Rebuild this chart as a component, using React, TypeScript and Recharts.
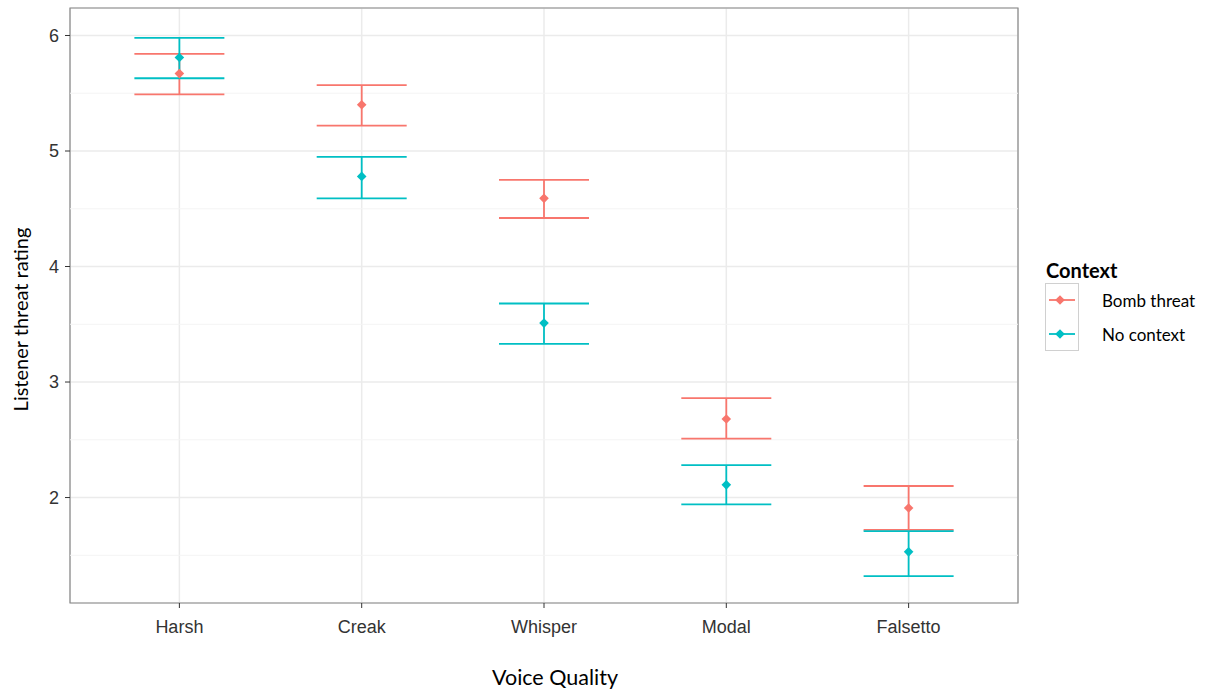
import React from 'react';
import {
    ScatterChart, Scatter, ErrorBar, XAxis, YAxis, CartesianGrid, ReferenceLine,
    ReferenceArea, Legend, Label
} from 'recharts';

const categories = ['Harsh', 'Creak', 'Whisper', 'Modal', 'Falsetto'];

// Bomb threat context: mean rating and interval bounds per voice quality
const bombMean = [5.67, 5.40, 4.59, 2.68, 1.91];
const bombLower = [5.49, 5.22, 4.42, 2.51, 1.72];
const bombUpper = [5.84, 5.57, 4.75, 2.86, 2.10];

// No context
const noneMean = [5.81, 4.78, 3.51, 2.11, 1.53];
const noneLower = [5.63, 4.59, 3.33, 1.94, 1.32];
const noneUpper = [5.98, 4.95, 3.68, 2.28, 1.71];

const yTicks = [2, 3, 4, 5, 6];
const yMinor = [1.5, 2.5, 3.5, 4.5, 5.5];

const RED = '#F8766D';
const CYAN = '#00BFC4';
const X_DOMAIN: [number, number] = [0.4, 5.6];
const Y_DOMAIN: [number, number] = [1.087, 6.238];

const build = (mean: number[], lower: number[], upper: number[]) =>
    categories.map((c, i) => ({
        x: i + 1,
        y: mean[i],
        err: [mean[i] - lower[i], upper[i] - mean[i]],
    }));

const bombData = build(bombMean, bombLower, bombUpper);
const noneData = build(noneMean, noneLower, noneUpper);

// filled diamond like ggplot shape 18
const Diamond = (props: any) => {
    const { cx, cy, fill } = props;
    const r = 4.8;
    return <polygon points={`${cx},${cy - r} ${cx + r},${cy} ${cx},${cy + r} ${cx - r},${cy}`} fill={fill} />;
};

const LegendBox = ({ payload }: any) => (
    <div style={{ fontFamily: 'Lato, sans-serif', color: '#000' }}>
        <div style={{ fontWeight: 700, fontSize: 20, lineHeight: '26px', marginLeft: 1 }}>Context</div>
        {(payload || []).map((p: any, i: number) => (
            <div key={i} style={{ display: 'flex', alignItems: 'center', height: 34 }}>
                <svg width={34} height={34} style={{ display: 'block' }}>
                    <rect x={0.5} y={i === 0 ? 0.5 : -0.5} width={33} height={34} fill="#fff" stroke="#d0d0d0" />
                    <line x1={4} x2={30} y1={17} y2={17} stroke={p.color} strokeWidth={1.8} />
                    <polygon points="15,12.2 19.8,17 15,21.8 10.2,17" fill={p.color} />
                </svg>
                <span style={{ marginLeft: 23, fontSize: 17 }}>{p.value}</span>
            </div>
        ))}
    </div>
);

const tickStyle = { fontFamily: '"Liberation Sans", Arial, sans-serif', fontSize: 18, fill: '#333' };

export default function App() {
    return (
        <div style={{ position: 'absolute', left: 0, top: 0, width: 1214, height: 689, background: '#fff' }}>
            <ScatterChart width={1214} height={689} margin={{ top: 8, right: 196, bottom: 40, left: 10 }}>
                <CartesianGrid stroke="#ebebeb" strokeWidth={1.5} />
                {yMinor.map((v) => (
                    <ReferenceLine key={v} y={v} stroke="#f4f4f4" strokeWidth={1} />
                ))}
                <ReferenceArea x1={X_DOMAIN[0]} x2={X_DOMAIN[1]} y1={Y_DOMAIN[0]} y2={Y_DOMAIN[1]}
                    fill="none" stroke="#888" strokeWidth={1.2} fillOpacity={0} ifOverflow="visible" />
                <XAxis type="number" dataKey="x" domain={X_DOMAIN} ticks={[1, 2, 3, 4, 5]}
                    tickFormatter={(v: number) => categories[v - 1]} allowDataOverflow
                    height={46} axisLine={false} tickSize={5} tickMargin={12}
                    tickLine={{ stroke: '#333' }} tick={tickStyle} interval={0}>
                    <Label content={({ viewBox }: any) => (
                        <text x={viewBox.x + viewBox.width / 2 + 11} y={677} textAnchor="middle" dominantBaseline="central"
                            fontFamily="Lato, sans-serif" fontSize={21.5} fill="#000">Voice Quality</text>
                    )} />
                </XAxis>
                <YAxis type="number" dataKey="y" domain={Y_DOMAIN} ticks={yTicks} allowDataOverflow
                    width={60} axisLine={false} tickSize={5} tickMargin={6}
                    tickLine={{ stroke: '#333' }} tick={tickStyle}>
                    <Label content={({ viewBox }: any) => {
                        const cy = viewBox.y + viewBox.height / 2 + 14;
                        return (
                            <text x={20} y={cy} transform={`rotate(-90, 20, ${cy})`} textAnchor="middle"
                                dominantBaseline="central" fontFamily="Lato, sans-serif" fontSize={20} fill="#000">
                                Listener threat rating
                            </text>
                        );
                    }} />
                </YAxis>
                <Legend layout="vertical" align="center" verticalAlign="middle" content={<LegendBox />}
                    wrapperStyle={{ left: 1045, top: 257, width: 170 }} />
                <Scatter name="Bomb threat" data={bombData} fill={RED} shape={<Diamond />} isAnimationActive={false}>
                    <ErrorBar dataKey="err" direction="y" width={45} stroke={RED} strokeWidth={1.8} />
                </Scatter>
                <Scatter name="No context" data={noneData} fill={CYAN} shape={<Diamond />} isAnimationActive={false}>
                    <ErrorBar dataKey="err" direction="y" width={45} stroke={CYAN} strokeWidth={1.8} />
                </Scatter>
            </ScatterChart>
        </div>
    );
}
